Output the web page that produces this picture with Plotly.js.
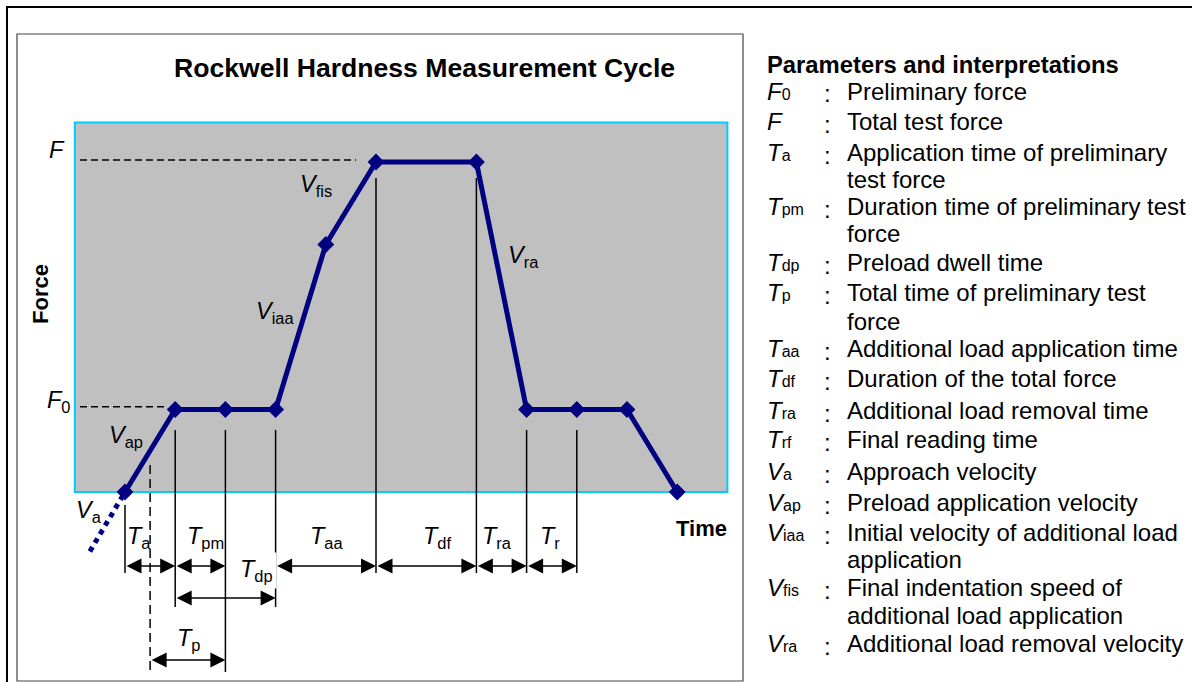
<!DOCTYPE html>
<html>
<head>
<meta charset="utf-8">
<script src="https://cdn.plot.ly/plotly-3.0.1.min.js"></script>
<style>html,body{margin:0;padding:0;background:#fff;}#chart{width:1192px;height:682px;}</style>
</head>
<body>
<div id="chart"></div>
<script>
// ---------------- DATA ----------------
// Force-time cycle (time in arbitrary units, force relative to total test force F = 1)
const times  = [0, 1, 2, 3, 4, 5, 7, 8, 9, 10, 11];
const forces = [0, 0.25, 0.25, 0.25, 0.75, 1, 1, 0.25, 0.25, 0.25, 0];
// approach (dotted) segment before the cycle
const approachTimes  = [-0.7, 0];
const approachForces = [-0.18, 0];
const F0 = 0.25;   // preliminary force
const F  = 1;      // total test force

// interval dimension arrows (start, end times) and their names
const intervalNames = ['a', 'pm', 'aa', 'df', 'ra', 'r', 'dp', 'p'];
const intervalStart = [0, 1, 3, 5, 7, 8, 1, 0.5];
const intervalEnd   = [1, 2, 5, 7, 8, 9, 3, 2];

// segment velocity labels
const velocityNames = ['a', 'ap', 'iaa', 'fis', 'ra'];

// legend
const legendLetters = ['F', 'F', 'T', 'T', 'T', 'T', 'T', 'T', 'T', 'T', 'V', 'V', 'V', 'V', 'V'];
const legendSubs    = ['0', '', 'a', 'pm', 'dp', 'p', 'aa', 'df', 'ra', 'rf', 'a', 'ap', 'iaa', 'fis', 'ra'];
const legendTexts = [
  ['Preliminary force'],
  ['Total test force'],
  ['Application time of preliminary', 'test force'],
  ['Duration time of preliminary test', 'force'],
  ['Preload dwell time'],
  ['Total time of preliminary test', 'force'],
  ['Additional load application time'],
  ['Duration of the total force'],
  ['Additional load removal time'],
  ['Final reading time'],
  ['Approach velocity'],
  ['Preload application velocity'],
  ['Initial velocity of additional load', 'application'],
  ['Final indentation speed of', 'additional load application'],
  ['Additional load removal velocity']
];

// ---------------- LAYOUT HELPERS ----------------
const W = 1192, H = 682;
const PX_PER_T = 50.2, T0_PX = 125;   // pixel position of t = 0
const PX_PER_F = 330,  F0_PX = 492;   // pixel position of force = 0
const tx = px => (px - T0_PX) / PX_PER_T;
const fy = py => (F0_PX - py) / PX_PER_F;
const pxX = px => px / W;
const pxY = py => 1 - py / H;

const FONT = 'Arial, "Liberation Sans", sans-serif';
const NAVY = '#000080';

// ---------------- TRACES ----------------
const traces = [
  {
    x: approachTimes, y: approachForces, mode: 'lines', type: 'scatter',
    line: {color: NAVY, width: 5, dash: 'dot'}, hoverinfo: 'skip', cliponaxis: false
  },
  {
    x: times, y: forces, mode: 'lines+markers', type: 'scatter',
    line: {color: NAVY, width: 5},
    marker: {symbol: 'diamond', size: 13, color: NAVY},
    hoverinfo: 'skip', cliponaxis: false
  }
];

// ---------------- SHAPES ----------------
const shapes = [];
// outer frame and inner box
shapes.push({type: 'rect', xref: 'paper', yref: 'paper', x0: pxX(7), x1: pxX(1205), y0: pxY(7), y1: pxY(700),
  line: {color: '#000', width: 2}, layer: 'below'});
shapes.push({type: 'rect', xref: 'paper', yref: 'paper', x0: pxX(17), x1: pxX(743), y0: pxY(34), y1: pxY(681),
  line: {color: '#444', width: 1.2}, layer: 'below'});
// plot area
shapes.push({type: 'rect', xref: 'x', yref: 'y', x0: -1, x1: 12, y0: 0, y1: 1.12,
  fillcolor: '#c0c0c0', line: {color: '#00ccff', width: 2}, layer: 'below'});
// dashed force levels
shapes.push({type: 'line', x0: tx(80), x1: tx(356), y0: F + 0.006, y1: F + 0.006,
  line: {color: '#000', width: 1.5, dash: '7px,4px'}});
shapes.push({type: 'line', x0: tx(80), x1: tx(168), y0: F0 + 0.008, y1: F0 + 0.008,
  line: {color: '#000', width: 1.5, dash: '7px,4px'}});
// vertical guide lines [time, top px, bottom px]
const guides = [
  [times[0], 505, 573], [times[1], 430, 607], [times[2], 430, 672], [times[3], 430, 607],
  [times[5], 178, 573], [times[6], 178, 573], [times[7], 430, 573], [times[8], 430, 573]
];
guides.forEach(g => shapes.push({type: 'line', x0: g[0], x1: g[0], y0: fy(g[1]), y1: fy(g[2]),
  line: {color: '#000', width: 1.5}}));
// dashed vertical at middle of Ta
shapes.push({type: 'line', x0: intervalStart[7], x1: intervalStart[7], y0: fy(465), y1: fy(672),
  line: {color: '#000', width: 1.5, dash: '9px,5px'}});

// ---------------- ANNOTATIONS ----------------
const ann = [];
const lbl = (text, px, py, size, extra) => Object.assign({
  x: tx(px), y: fy(py), xref: 'x', yref: 'y', text: text, showarrow: false,
  font: {family: FONT, size: size, color: '#000'}, xanchor: 'center', yanchor: 'middle'
}, extra || {});

// title
ann.push(lbl('<b>Rockwell Hardness Measurement Cycle</b>', 424, 68, 26.6));
// axis labels
ann.push(lbl('<b>Force</b>', 40, 294, 22, {textangle: -90}));
ann.push(lbl('<b>Time</b>', 701, 528, 22));
ann.push(lbl('<i>F</i>', 57, 150, 23.5));
ann.push(lbl('<i>F</i><sub>0</sub>', 59, 401, 23.5));

// interval labels (label pixel positions)
const intervalLabelPx = [[139, 537], [205, 537], [327, 537], [437, 537], [497, 537], [550, 537], [256, 570], [189, 639]];
intervalNames.forEach((n, i) => {
  const extra = (n === 'dp') ? {bgcolor: '#fff', borderpad: 3} : {};
  ann.push(lbl('<i>T</i><sub>' + n + '</sub>', intervalLabelPx[i][0], intervalLabelPx[i][1], 23.5, extra));
});
// velocity labels
const velocityLabelPx = [[89, 511], [126, 436], [275, 312], [316, 185], [523, 256]];
velocityNames.forEach((n, i) => {
  ann.push(lbl('<i>V</i><sub>' + n + '</sub>', velocityLabelPx[i][0], velocityLabelPx[i][1], 23.5));
});

// dimension arrows
const rowPx = [566, 566, 566, 566, 566, 566, 598, 660];
intervalNames.forEach((n, i) => {
  ann.push({
    x: intervalEnd[i], y: fy(rowPx[i]), ax: intervalStart[i], ay: fy(rowPx[i]),
    xref: 'x', yref: 'y', axref: 'x', ayref: 'y', text: '', showarrow: true,
    arrowside: 'end+start', arrowhead: 2, startarrowhead: 2, arrowsize: 2, startarrowsize: 2,
    arrowwidth: 1.5, arrowcolor: '#000', standoff: 0, startstandoff: 0
  });
});

// legend
const legAnn = (text, px, py, size) => ({
  x: pxX(px), y: pxY(py), xref: 'paper', yref: 'paper', text: text, showarrow: false,
  font: {family: FONT, size: size, color: '#000'}, xanchor: 'left', yanchor: 'middle'
});
ann.push(legAnn('<b>Parameters and interpretations</b>', 765, 64, 23.8));
const legendRowPx = [92, 122, 153, 180, 208, 235, 263, 293, 322, 349, 380, 411, 440, 472, 503, 533, 560, 588, 616, 644];
let row = 0;
legendLetters.forEach((s, i) => {
  const sym = '<i>' + s + '</i>' + (legendSubs[i] ? '<span style="font-size:16px">' + legendSubs[i] + '</span>' : '');
  ann.push(legAnn(sym, 765, legendRowPx[row] - 1, 24));
  ann.push(legAnn(':', 822, legendRowPx[row] + 2, 24));
  legendTexts[i].forEach(t => {
    ann.push(legAnn(t, 845, legendRowPx[row] - 1, 24));
    row++;
  });
});

const layout = {
  width: W, height: H,
  margin: {l: 0, r: 0, t: 0, b: 0, pad: 0},
  paper_bgcolor: '#fff', plot_bgcolor: 'rgba(0,0,0,0)',
  showlegend: false,
  xaxis: {range: [tx(0), tx(W)], visible: false, fixedrange: true},
  yaxis: {range: [fy(H), fy(0)], visible: false, fixedrange: true},
  shapes: shapes,
  annotations: ann
};

Plotly.newPlot('chart', traces, layout, {displayModeBar: false, staticPlot: true});
</script>
</body>
</html>
